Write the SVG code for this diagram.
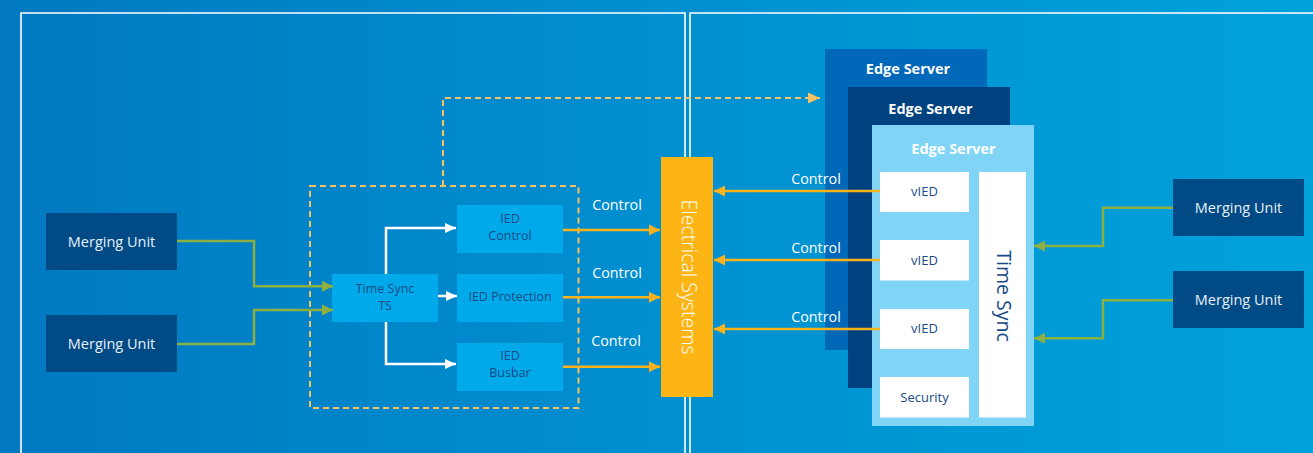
<svg xmlns="http://www.w3.org/2000/svg" width="1313" height="453" viewBox="0 0 1313 453">
<defs>
<linearGradient id="bg" x1="0" y1="0" x2="1" y2="0">
<stop offset="0" stop-color="#0079C1"/>
<stop offset="0.5" stop-color="#008FD0"/>
<stop offset="1" stop-color="#00A2DC"/>
</linearGradient>
<marker id="ao" markerWidth="12" markerHeight="12" viewBox="0 0 12 12" refX="11" refY="6" orient="auto" markerUnits="userSpaceOnUse"><path d="M0,0.5 L11,6 L0,11.5 Z" fill="#F9B21B"/></marker>
<marker id="ad" markerWidth="13" markerHeight="12" viewBox="0 0 13 12" refX="12" refY="6" orient="auto" markerUnits="userSpaceOnUse"><path d="M0,0.5 L12,6 L0,11.5 Z" fill="#F5C264"/></marker>
<marker id="ag" markerWidth="12" markerHeight="12" viewBox="0 0 12 12" refX="11" refY="6" orient="auto" markerUnits="userSpaceOnUse"><path d="M0,0.5 L11,6 L0,11.5 Z" fill="#8DB040"/></marker>
<marker id="aw" markerWidth="12" markerHeight="12" viewBox="0 0 12 12" refX="11" refY="6" orient="auto" markerUnits="userSpaceOnUse"><path d="M0,1 L11,6 L0,11 Z" fill="#FFFFFF"/></marker>
</defs>
<style>
text{font-family:"Open Sans","Liberation Sans",sans-serif;}
.mu{fill:#004A86;}
.mut{fill:#E8F0F7;font-size:14.5px;text-anchor:middle;}
.ied{fill:#00AAEA;}
.iedt{fill:#184A86;font-size:12.5px;text-anchor:middle;}
.wb{fill:#FFFFFF;}
.wt{fill:#184A86;font-size:13px;text-anchor:middle;}
.ctl{fill:#FFFFFF;font-size:14.3px;text-anchor:middle;}
.est{fill:#FFFFFF;font-size:14.5px;font-weight:bold;text-anchor:middle;}
.og{fill:none;stroke:#F9B21B;stroke-width:2.5;marker-end:url(#ao);}
.gr{fill:none;stroke:#8DB040;stroke-width:2.5;marker-end:url(#ag);}
.wh{fill:none;stroke:#FFFFFF;stroke-width:2.5;marker-end:url(#aw);}
.frame{fill:none;stroke:#FFFFFF;stroke-width:1.6;}
</style>
<rect x="0" y="0" width="1313" height="453" fill="url(#bg)"/>
<g id="frames">
<path class="frame" d="M21,453 V13 H685 V453"/>
<path class="frame" d="M690,453 V13 H1313"/>
</g>
<g id="group-box">
<rect x="310" y="186" width="268.5" height="222" fill="none" stroke="#F5C264" stroke-width="2" stroke-dasharray="6,4"/>
</g>
<g id="mu-left-1"><rect class="mu" x="46" y="213" width="131" height="57"/><text class="mut" x="111.5" y="246.5">Merging Unit</text></g>
<g id="mu-left-2"><rect class="mu" x="46" y="315" width="131" height="57"/><text class="mut" x="111.5" y="348.5">Merging Unit</text></g>
<g id="timesync-ts"><rect class="ied" x="332" y="274" width="106" height="48"/><text class="iedt" x="385" y="293">Time Sync</text><text class="iedt" x="385" y="310">TS</text></g>
<g id="ied-control"><rect class="ied" x="457" y="205" width="106" height="48"/><text class="iedt" x="510" y="223">IED</text><text class="iedt" x="510" y="240">Control</text></g>
<g id="ied-protection"><rect class="ied" x="457" y="274" width="106" height="48"/><text class="iedt" x="510" y="300.5">IED Protection</text></g>
<g id="ied-busbar"><rect class="ied" x="457" y="343" width="106" height="48"/><text class="iedt" x="510" y="360">IED</text><text class="iedt" x="510" y="377">Busbar</text></g>
<g id="electrical-systems"><rect x="661" y="157" width="52" height="240" fill="#FDB515"/><text transform="translate(682,277) rotate(90)" fill="#FFFFFF" font-size="19.5" font-weight="300" text-anchor="middle">Electrical Systems</text></g>
<g id="edge-server-1"><rect x="825" y="49" width="162" height="301" fill="#0068B8"/><text class="est" x="908" y="74">Edge Server</text></g>
<g id="edge-server-2"><rect x="848" y="87" width="162" height="301" fill="#00427F"/><text class="est" x="930.5" y="114">Edge Server</text></g>
<g id="edge-server-3"><rect x="872" y="125" width="162" height="301" fill="#80D4F6"/><text class="est" x="953.5" y="154">Edge Server</text></g>
<g id="vied-1"><rect class="wb" x="880" y="172" width="89" height="40"/><text class="wt" x="924.5" y="196">vIED</text></g>
<g id="vied-2"><rect class="wb" x="880" y="240" width="89" height="40.5"/><text class="wt" x="924.5" y="264.5">vIED</text></g>
<g id="vied-3"><rect class="wb" x="880" y="309" width="89" height="40"/><text class="wt" x="924.5" y="333">vIED</text></g>
<g id="security"><rect class="wb" x="880" y="377" width="89" height="40.5"/><text class="wt" x="924.5" y="402">Security</text></g>
<g id="time-sync"><rect class="wb" x="979" y="172" width="47" height="245.5"/><text transform="translate(996.5,296) rotate(90)" fill="#184A86" font-size="19.5" text-anchor="middle">Time Sync</text></g>
<g id="mu-right-1"><rect class="mu" x="1173" y="179" width="131" height="57"/><text class="mut" x="1238.5" y="212.5">Merging Unit</text></g>
<g id="mu-right-2"><rect class="mu" x="1173" y="271" width="131" height="57"/><text class="mut" x="1238.5" y="304.5">Merging Unit</text></g>
<g id="connectors">
<path d="M443,186 V98 H820" fill="none" stroke="#F5C264" stroke-width="2" stroke-dasharray="6,4" marker-end="url(#ad)"/>
<path class="gr" d="M177,241 H254 V286.3 H333"/>
<path class="gr" d="M177,344 H254 V310 H333"/>
<path class="wh" d="M386,274 V228 H456"/>
<path class="wh" d="M438,296 H457"/>
<path class="wh" d="M386,322 V364 H456"/>
<path class="og" d="M563,230 H660"/>
<path class="og" d="M563,297.3 H660"/>
<path class="og" d="M563,366.7 H660"/>
<path class="og" d="M880,191 H714"/>
<path class="og" d="M880,260 H714"/>
<path class="og" d="M880,329 H714"/>
<path class="gr" d="M1173,207.7 H1103 V246 H1034"/>
<path class="gr" d="M1173,300.3 H1103 V338.3 H1034"/>
<text class="ctl" x="617" y="210">Control</text>
<text class="ctl" x="617" y="278">Control</text>
<text class="ctl" x="616" y="346">Control</text>
<text class="ctl" x="816" y="184">Control</text>
<text class="ctl" x="816" y="253">Control</text>
<text class="ctl" x="816" y="322">Control</text>
</g>
</svg>
